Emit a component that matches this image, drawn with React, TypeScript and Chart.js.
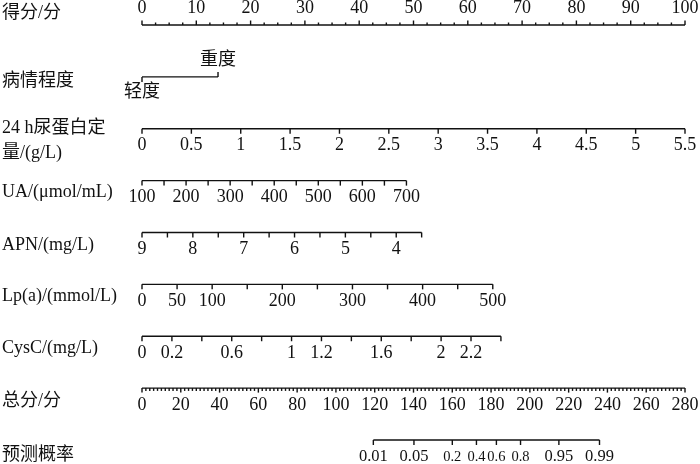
import { useEffect, useRef } from "react";
import { Chart, registerables } from "chart.js";

Chart.register(...registerables);

// ---------- data ----------
const rowNames: string[][] = [
  ["得分/分"],
  ["病情程度"],
  ["24 h尿蛋白定", "量/(g/L)"],
  ["UA/(μmol/mL)"],
  ["APN/(mg/L)"],
  ["Lp(a)/(mmol/L)"],
  ["CysC/(mg/L)"],
  ["总分/分"],
  ["预测概率"],
];

// points axis (0-100)
const pointsLabels = [0, 10, 20, 30, 40, 50, 60, 70, 80, 90, 100];
const pointsMinorStep = 2.5;

// severity
const severityLevels = ["轻度", "重度"];
const severityPoints = [0, 14];

// 24 h urine protein
const proteinTicks = [0, 0.5, 1, 1.5, 2, 2.5, 3, 3.5, 4, 4.5, 5, 5.5];
const proteinLabels = ["0", "0.5", "1", "1.5", "2", "2.5", "3", "3.5", "4", "4.5", "5", "5.5"];
const proteinValueRange = [0, 5.5];
const proteinPointsRange = [0, 100];

// UA
const uaTicks = [100, 150, 200, 250, 300, 350, 400, 450, 500, 550, 600, 650, 700];
const uaLabels = ["100", "", "200", "", "300", "", "400", "", "500", "", "600", "", "700"];
const uaValueRange = [100, 700];
const uaPointsRange = [0, 48.7];

// APN
const apnTicks = [9, 8.5, 8, 7.5, 7, 6.5, 6, 5.5, 5, 4.5, 4, 3.5];
const apnLabels = ["9", "", "8", "", "7", "", "6", "", "5", "", "4", ""];
const apnValueRange = [9, 3.5];
const apnPointsRange = [0, 51.5];

// Lp(a)
const lpaTicks = [0, 50, 100, 150, 200, 250, 300, 350, 400, 450, 500];
const lpaLabels = ["0", "50", "100", "", "200", "", "300", "", "400", "", "500"];
const lpaValueRange = [0, 500];
const lpaPointsRange = [0, 64.6];

// CysC
const cyscTicks = [0, 0.2, 0.4, 0.6, 0.8, 1, 1.2, 1.4, 1.6, 1.8, 2, 2.2, 2.4];
const cyscLabels = ["0", "0.2", "", "0.6", "", "1", "1.2", "", "1.6", "", "2", "2.2", ""];
const cyscValueRange = [0, 2.4];
const cyscPointsRange = [0, 66.1];

// total points (0-280)
const totalLabels = [0, 20, 40, 60, 80, 100, 120, 140, 160, 180, 200, 220, 240, 260, 280];
const totalMinorStep = 2;

// predicted probability
const probTicks = [0.01, 0.05, 0.2, 0.4, 0.6, 0.8, 0.95, 0.99];
const probLabels = ["0.01", "0.05", "0.2", "0.4", "0.6", "0.8", "0.95", "0.99"];
const probSmall = [false, false, true, true, true, true, false, false];
const probCenterPoints = 177.6; // total points at p = 0.5
const probPointsPerLogit = 12.69;

// ---------- helpers ----------
const lin = (v: number, vr: number[], pr: number[]) =>
  pr[0] + ((v - vr[0]) / (vr[1] - vr[0])) * (pr[1] - pr[0]);
const logit = (p: number) => Math.log(p / (1 - p));

const INK = "#111";
const SERIF = "'Liberation Serif', 'Noto Sans CJK SC', serif";

type Spec = {
  dir: number[]; // 1 = down, -1 = up
  len: number[];
  labels: string[];
  labelOffset: number[];
  font: string[];
};

function makeRow(row: number, xs: number[], spec: Spec, axis: string = "x") {
  return {
    data: xs.map((x) => ({ x, y: row })),
    xAxisID: axis,
    borderColor: INK,
    borderWidth: 1.4,
    pointRadius: 0,
    fill: false,
    tension: 0,
    nomo: spec,
  } as any;
}

function buildDatasets() {
  const ds: any[] = [];
  const tickFont = `18px ${SERIF}`;

  // row 0 points axis
  const pts: number[] = [];
  for (let v = 0; v <= 100 + 1e-9; v += pointsMinorStep) pts.push(v);
  ds.push(
    makeRow(0, pts, {
      dir: pts.map(() => -1),
      len: pts.map((v) => (pointsLabels.includes(v) ? 4.5 : 2.5)),
      labels: pts.map((v) => (pointsLabels.includes(v) ? String(v) : "")),
      labelOffset: pts.map(() => -16.5),
      font: pts.map(() => tickFont),
    })
  );

  // row 1 severity
  ds.push(
    makeRow(1, severityPoints, {
      dir: [1, -1],
      len: [5, 5],
      labels: severityLevels,
      labelOffset: [15, -17],
      font: severityLevels.map(() => `18px ${SERIF}`),
    })
  );

  const cont = (row: number, ticks: number[], labels: string[], vr: number[], pr: number[]) =>
    makeRow(
      row,
      ticks.map((t) => lin(t, vr, pr)),
      {
        dir: ticks.map(() => 1),
        len: ticks.map(() => 5),
        labels,
        labelOffset: ticks.map(() => 17),
        font: ticks.map(() => tickFont),
      }
    );

  ds.push(cont(2, proteinTicks, proteinLabels, proteinValueRange, proteinPointsRange));
  ds.push(cont(3, uaTicks, uaLabels, uaValueRange, uaPointsRange));
  ds.push(cont(4, apnTicks, apnLabels, apnValueRange, apnPointsRange));
  ds.push(cont(5, lpaTicks, lpaLabels, lpaValueRange, lpaPointsRange));
  ds.push(cont(6, cyscTicks, cyscLabels, cyscValueRange, cyscPointsRange));

  // row 7 total points
  const tot: number[] = [];
  for (let v = 0; v <= 280 + 1e-9; v += totalMinorStep) tot.push(v);
  ds.push(
    makeRow(
      7,
      tot,
      {
        dir: tot.map(() => 1),
        len: tot.map((v) => (totalLabels.includes(v) ? 4.5 : 2.8)),
        labels: tot.map((v) => (totalLabels.includes(v) ? String(v) : "")),
        labelOffset: tot.map(() => 17),
        font: tot.map(() => tickFont),
      },
      "xTotal"
    )
  );

  // row 8 probability
  ds.push(
    makeRow(
      8,
      probTicks.map((p) => probCenterPoints + probPointsPerLogit * logit(p)),
      {
        dir: probTicks.map(() => 1),
        len: probTicks.map(() => 5),
        labels: probLabels,
        labelOffset: probSmall.map((s) => (s ? 17.5 : 17)),
        font: probSmall.map((s) => (s ? `14.5px ${SERIF}` : `16.5px ${SERIF}`)),
      },
      "xTotal"
    )
  );
  return ds;
}

const rowNameOffsets = [-11.7, 4, 0, 11.6, 13, 11.7, 12, 13, 15];
const rowNameLineGap = 25;

const nomoPlugin = {
  id: "nomo",
  afterDatasetsDraw(chart: any) {
    const ctx = chart.ctx as CanvasRenderingContext2D;
    ctx.save();
    ctx.strokeStyle = INK;
    ctx.fillStyle = INK;
    ctx.lineWidth = 1.4;
    ctx.textAlign = "center";
    ctx.textBaseline = "middle";
    chart.data.datasets.forEach((ds: any, i: number) => {
      const spec: Spec = ds.nomo;
      const meta = chart.getDatasetMeta(i);
      meta.data.forEach((el: any, j: number) => {
        const x = el.x;
        const y = el.y;
        ctx.beginPath();
        ctx.moveTo(x, y);
        ctx.lineTo(x, y + spec.dir[j] * spec.len[j]);
        ctx.stroke();
        const lab = spec.labels[j];
        if (lab) {
          ctx.font = spec.font[j];
          ctx.fillText(lab, x, y + spec.labelOffset[j]);
        }
      });
    });
    // row names
    const yScale = chart.scales.y;
    ctx.textAlign = "left";
    ctx.font = `18px ${SERIF}`;
    rowNames.forEach((lines, r) => {
      const base = yScale.getPixelForValue(r) + rowNameOffsets[r];
      lines.forEach((t, k) => {
        ctx.fillText(t, 2, base + k * rowNameLineGap);
      });
    });
    ctx.restore();
  },
};

export default function App() {
  const ref = useRef<HTMLCanvasElement | null>(null);
  useEffect(() => {
    document.body.style.margin = "0";
    const canvas = ref.current!;
    const chart = new Chart(canvas, {
      type: "line",
      data: { datasets: buildDatasets() },
      options: {
        responsive: false,
        animation: false,
        events: [],
        layout: { padding: { left: 142, right: 15, top: 0, bottom: 0 } },
        plugins: { legend: { display: false }, tooltip: { enabled: false } },
        scales: {
          x: { type: "linear", min: 0, max: 100, display: false },
          xTotal: { type: "linear", axis: "x", min: 0, max: 280, display: false },
          y: { type: "linear", min: -0.482, max: 8.463, reverse: true, display: false },
        },
      } as any,
      plugins: [nomoPlugin],
    });
    return () => chart.destroy();
  }, []);
  return (
    <div style={{ position: "absolute", left: 0, top: 0, width: 700, height: 464, background: "#fff" }}>
      <canvas ref={ref} width={700} height={464} />
    </div>
  );
}
